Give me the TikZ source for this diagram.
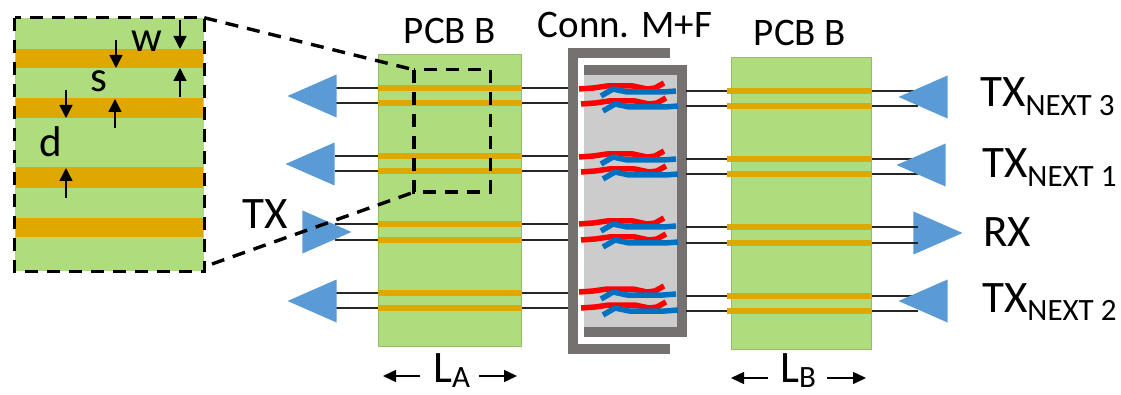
\documentclass[tikz,border=0pt]{standalone}
\usepackage{fontspec}
\setmainfont{Carlito}
\usetikzlibrary{shapes.geometric,arrows.meta}
\definecolor{pcbgreen}{HTML}{AFDD7E}
\definecolor{trace}{HTML}{DFA800}
\definecolor{wallgray}{HTML}{767171}
\definecolor{shellgray}{HTML}{CCCCCC}
\definecolor{drvblue}{HTML}{5B9BD5}
\definecolor{pinred}{HTML}{FF0000}
\definecolor{pinblue}{HTML}{0070C0}
\newcommand{\lab}[1]{\fontsize{#1}{#1}\selectfont}
\newcommand{\lowsub}[1]{\raisebox{-9pt}{\lab{31}#1}}
\newcommand{\lensub}[1]{\raisebox{-5pt}{\lab{31}#1}}
\begin{document}
\begin{tikzpicture}[
  x=1pt, y=-1pt,
  board/.style={fill=pcbgreen, draw=pcbgreen!85!black, line width=0.5pt, inner sep=0pt},
  strip/.style={fill=trace, inner sep=0pt, minimum height=#1},
  wire/.style={draw=black!85, line width=1.3pt},
  drv/.style={isosceles triangle, isosceles triangle stretches, fill=drvblue, inner sep=0pt,
    minimum width=43pt, minimum height=49pt, anchor=apex},
  drvl/.style={drv, shape border rotate=180},
  wall/.style={draw=wallgray, line width=10pt, miter limit=10},
  txt/.style={inner sep=0pt, anchor=base, font=\lab{39}},
  big/.style={txt, font=\lab{45}},
  dash box/.style={draw=black, line width=3.4pt, dash pattern=on 13pt off 9pt},
  dim/.style={-{Triangle[length=13pt,width=13pt]}, line width=1.5pt},
  lenarr/.style={-{Triangle[length=13pt,width=12pt]}, line width=1.5pt}
]
\useasboundingbox (0,0) rectangle (1121,395);
\node[board, minimum width=143pt, minimum height=292pt] (pcba) at (449.5,200) {};
\node[board, minimum width=140pt, minimum height=292pt] (pcbb) at (801,203) {};
\node[fill=shellgray, inner sep=0pt, minimum width=93pt, minimum height=262pt] (shell) at (630.5,201) {};
\draw[wall] (670,53) -- (573,53) -- (573,349) -- (670,349);
\draw[wall] (584,70) -- (682,70) -- (682,332) -- (584,332);
\node[drv] (tx) at (352,232) {};
\node[drv] (rx) at (963,233) {};
\coordinate (wa1) at (335,88);
\coordinate (wa2) at (335,103);
\coordinate (wa3) at (335,156);
\coordinate (wa4) at (335,171);
\coordinate (wa5) at (335,224);
\coordinate (wa6) at (335,240);
\coordinate (wa7) at (335,293);
\coordinate (wa8) at (335,308);
\coordinate (ca1) at (568,88);
\coordinate (ca2) at (568,103);
\coordinate (ca3) at (568,156);
\coordinate (ca4) at (568,171);
\coordinate (ca5) at (568,224);
\coordinate (ca6) at (568,240);
\coordinate (ca7) at (568,293);
\coordinate (ca8) at (568,308);
\coordinate (cb1) at (686,91);
\coordinate (cb2) at (686,106);
\coordinate (cb3) at (686,159);
\coordinate (cb4) at (686,174);
\coordinate (cb5) at (686,227);
\coordinate (cb6) at (686,243);
\coordinate (cb7) at (686,296);
\coordinate (cb8) at (686,311);
\coordinate (wb1) at (918,91);
\coordinate (wb2) at (918,106);
\coordinate (wb3) at (918,159);
\coordinate (wb4) at (918,174);
\coordinate (wb5) at (918,227);
\coordinate (wb6) at (918,243);
\coordinate (wb7) at (918,296);
\coordinate (wb8) at (918,311);
\foreach \i in {1,...,8} {
  \draw[wire] (wa\i) -- (ca\i);
  \draw[wire] (cb\i) -- (wb\i);
}
\foreach \y in {88,103,156,171,224,240,293,308}
  \node[strip=6pt, minimum width=144pt] at (450,\y) {};
\foreach \y in {91,106,159,174,227,243,296,311}
  \node[strip=6pt, minimum width=145pt] at (799.5,\y) {};
\node[drvl] (nl1) at (287,96) {};
\node[drvl] (nl2) at (285,164) {};
\node[drvl] (nl3) at (287,301) {};
\node[drvl] (nr3) at (898,97) {};
\node[drvl] (nr1) at (896,165) {};
\node[drvl] (nr2) at (898,301) {};
\foreach \dx/\dy in {0/0,2/15,0/68,2/83,0/135,2/151,0/203,2/219} {
  \draw[pinred, line width=5.5pt, line join=round, shift={(\dx,\dy)}]
    (579,89) -- (593,88) -- (607,86) -- (633,86) -- (647,89) -- (655,88) -- (664,83);
  \draw[pinblue, line width=5.5pt, line join=round, shift={(\dx,\dy)}]
    (601,96) -- (613,89) -- (627,92) -- (663,92) -- (676,91);
}
\node[board, draw=none, minimum width=189pt, minimum height=253pt] (inset) at (109.5,144.5) {};
\foreach \y/\h in {58.5/19,108/20,177.5/21,227.5/19}
  \node[strip=\h pt, minimum width=187pt] at (109.5,\y) {};
\draw[dash box] (inset.north west) rectangle (inset.south east);
\node[minimum width=76pt, minimum height=122pt, inner sep=0pt] (zoom) at (452,131) {};
\draw[dash box] (zoom.north west) rectangle (zoom.south east);
\draw[dash box] (inset.north east) -- (zoom.north west);
\coordinate (insetfoot) at (212,264);
\draw[dash box] (insetfoot) -- (zoom.south west);
\coordinate (wt) at (180,20);
\coordinate (wta) at (180,49);
\coordinate (wb) at (180,97);
\coordinate (wba) at (180,68);
\coordinate (st) at (116,40);
\coordinate (sta) at (116,68);
\coordinate (sb) at (115,128);
\coordinate (sba) at (115,99);
\coordinate (dt) at (66,90);
\coordinate (dta) at (66,118);
\coordinate (db) at (66,198);
\coordinate (dba) at (66,168);
\draw[dim] (wt) -- (wta);
\draw[dim] (wb) -- (wba);
\draw[dim] (st) -- (sta);
\draw[dim] (sb) -- (sba);
\draw[dim] (dt) -- (dta);
\draw[dim] (db) -- (dba);
\node[txt, font=\lab{43}] (wlab) at (147,52) {w};
\node[txt, font=\lab{43}] (slab) at (99,92) {s};
\node[txt, font=\lab{43}] (dlab) at (51,157) {d};
\node[txt] (pcbalab) at (450,44) {PCB B};
\node[txt] (connlab) at (625,38) {Conn. M+F};
\node[txt] (pcbblab) at (800,46) {PCB B};
\node[big] (txlab) at (265,229) {TX};
\node[big, anchor=base west] (t3lab) at (980,107) {TX\lowsub{NEXT 3}};
\node[big, anchor=base west] (t1lab) at (982,178) {TX\lowsub{NEXT 1}};
\node[big, anchor=base west] (rxlab) at (983,247) {RX};
\node[big, anchor=base west] (t2lab) at (982,312) {TX\lowsub{NEXT 2}};
\node[big, anchor=base west] (lalab) at (433,382) {L\lensub{A}};
\node[big, anchor=base west] (lblab) at (780,382) {L\lensub{B}};
\coordinate (lal) at (420,376);
\coordinate (lale) at (383,376);
\coordinate (lar) at (479,376);
\coordinate (lare) at (517,376);
\coordinate (lbl) at (768,378);
\coordinate (lble) at (731,378);
\coordinate (lbr) at (827,378);
\coordinate (lbre) at (866,378);
\draw[lenarr] (lal) -- (lale);
\draw[lenarr] (lar) -- (lare);
\draw[lenarr] (lbl) -- (lble);
\draw[lenarr] (lbr) -- (lbre);
\end{tikzpicture}
\end{document}
